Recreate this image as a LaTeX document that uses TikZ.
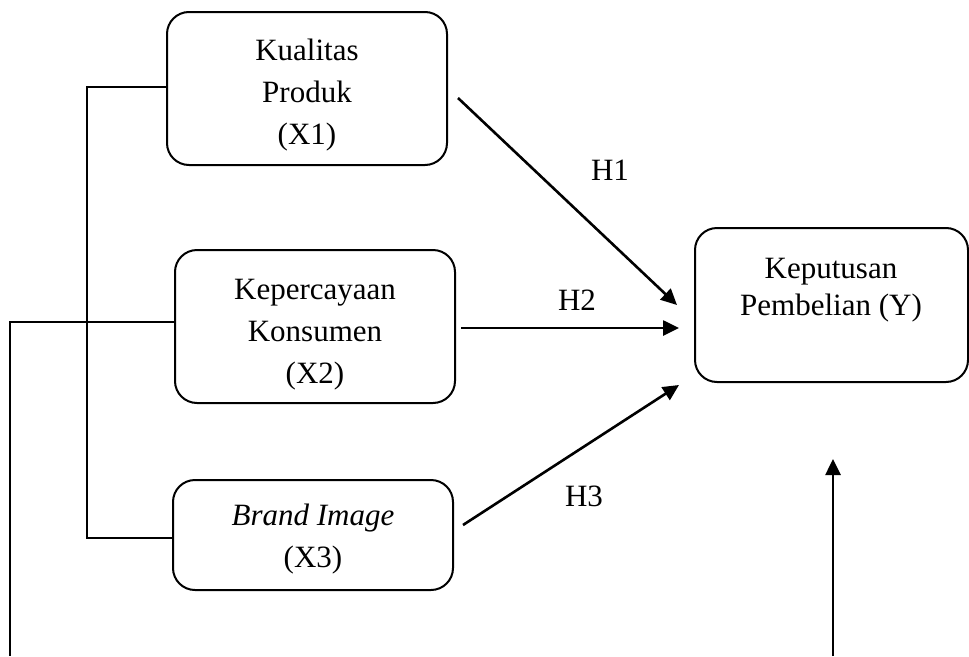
\documentclass[tikz,border=0pt]{standalone}
\usepackage{fontspec}
\setmainfont{Liberation Serif}
\usetikzlibrary{arrows.meta}
\begin{document}
\begin{tikzpicture}[x=1pt,y=-1pt,
  varbox/.style={draw,line width=2pt,rounded corners=22pt,inner sep=0pt},
  boxtext/.style={inner sep=0pt,align=center},
  conn/.style={line width=2pt},
  hyparrow/.style={line width=2.6pt,-{Triangle[length=16pt,width=15pt]}},
  lbl/.style={inner sep=0pt}]
\useasboundingbox (0,0) rectangle (969,656);
\fontsize{31}{42}\selectfont
\node[varbox,minimum width=280pt,minimum height=153pt] (x1) at (307,88.5) {};
\node[boxtext] (x1t) at ([yshift=-6.5pt]x1.center) {Kualitas\\Produk\\(X1)};
\node[varbox,minimum width=280pt,minimum height=153pt] (x2) at (315,326.5) {};
\node[boxtext] (x2t) at ([yshift=-8pt]x2.center) {Kepercayaan\\Konsumen\\(X2)};
\node[varbox,minimum width=280pt,minimum height=110pt] (x3) at (313,535) {};
\node[boxtext] (x3t) at ([yshift=-4.5pt]x3.center) {\textit{Brand Image}\\(X3)};
\node[varbox,minimum width=273pt,minimum height=154pt] (y) at (831.5,305) {};
\node[boxtext,font=\fontsize{31}{37}\selectfont] (yt) at (831,290) {Keputusan\\Pembelian (Y)};
% bracket
\coordinate (b1) at (87,87);
\coordinate (b2) at (87,538);
\draw[conn] (x1.west |- b1) -- (b1) -- (b2) -- (x3.west |- b2);
% outer line
\coordinate (o1) at (10,322);
\coordinate (o2) at (10,656);
\draw[conn] (x2.west |- o1) -- (o1) -- (o2);
% hypothesis arrows
\coordinate (h1s) at (458,98);
\coordinate (h1e) at (677,305);
\coordinate (h2s) at (461,328);
\coordinate (h2e) at (679,328);
\coordinate (h3s) at (463,525);
\coordinate (h3e) at (679,385);
\draw[hyparrow] (h1s) -- (h1e);
\draw[hyparrow] (h2s) -- (h2e);
\draw[hyparrow] (h3s) -- (h3e);
\node[lbl] (lh1) at (610,170) {H1};
\node[lbl] (lh2) at (577,300) {H2};
\node[lbl] (lh3) at (584,496) {H3};
% vertical arrow
\coordinate (vs) at (833,656);
\coordinate (ve) at (833,459);
\draw[hyparrow] (vs) -- (ve);
\end{tikzpicture}
\end{document}
